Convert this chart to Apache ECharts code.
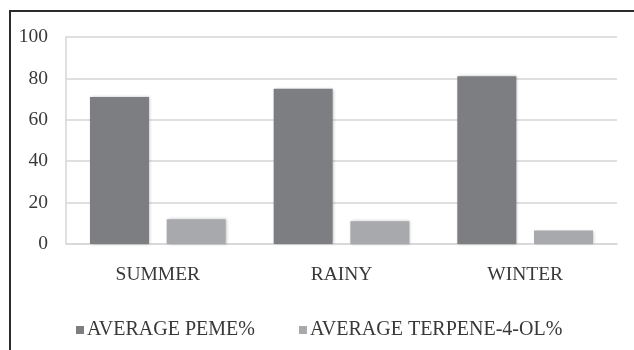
<!DOCTYPE html>
<html>
<head>
<meta charset="utf-8">
<script src="https://cdn.jsdelivr.net/npm/echarts@6/dist/echarts.min.js"></script>
<style>
  html, body { margin: 0; padding: 0; background: #fff; }
  #chart { width: 634px; height: 350px; }
</style>
</head>
<body>
<div id="chart"></div>
<script>
// Seasonal averages of PEME and terpene-4-ol content
const seasons = ['SUMMER', 'RAINY', 'WINTER'];
const avgPeme = [71, 75, 81];
const avgTerpene = [12, 11, 6.5];
const seriesNames = ['AVERAGE PEME%', 'AVERAGE TERPENE-4-OL%'];
const yTicks = [0, 20, 40, 60, 80, 100];

const serif = '"Liberation Serif", "DejaVu Serif", serif';
const textColor = '#383838';
const chart = echarts.init(document.getElementById('chart'), null, { renderer: 'canvas' });

const barShadow = {
  shadowBlur: 3,
  shadowColor: 'rgba(0,0,0,0.25)',
  shadowOffsetX: 1,
  shadowOffsetY: 0
};

chart.setOption({
  animation: false,
  backgroundColor: '#fff',
  graphic: [{
    type: 'polyline',
    shape: { points: [[10, 350], [10, 11], [634, 11]] },
    style: { stroke: '#2b2b2b', lineWidth: 2, fill: null },
    silent: true
  }],
  grid: { left: 66, right: 17, top: 37, bottom: 106 },
  legend: {
    left: 71,
    top: 315,
    itemWidth: 8,
    itemHeight: 8,
    itemGap: 44,
    icon: 'rect',
    textStyle: { fontFamily: serif, fontSize: 20, color: textColor, padding: [0, 0, 0, -2] },
    data: seriesNames
  },
  xAxis: {
    type: 'category',
    data: seasons,
    axisLine: { show: true, lineStyle: { color: '#d6d6d6', width: 1.5 } },
    axisTick: { show: false },
    axisLabel: { fontFamily: serif, fontSize: 19.5, color: textColor, margin: 21 }
  },
  yAxis: {
    type: 'value',
    min: yTicks[0],
    max: yTicks[yTicks.length - 1],
    interval: yTicks[1] - yTicks[0],
    axisLine: { show: true, lineStyle: { color: '#d6d6d6', width: 1.5 } },
    axisTick: { show: false },
    splitLine: { lineStyle: { color: '#d6d6d6', width: 1.5 } },
    axisLabel: { fontFamily: serif, fontSize: 19.5, color: textColor, margin: 18 }
  },
  series: [
    {
      name: seriesNames[0],
      type: 'bar',
      data: avgPeme,
      barWidth: 59,
      barGap: '30%',
      itemStyle: Object.assign({ color: '#7d7e82' }, barShadow)
    },
    {
      name: seriesNames[1],
      type: 'bar',
      data: avgTerpene,
      barWidth: 59,
      itemStyle: Object.assign({ color: '#a8a9ac' }, barShadow)
    }
  ]
});
</script>
</body>
</html>
